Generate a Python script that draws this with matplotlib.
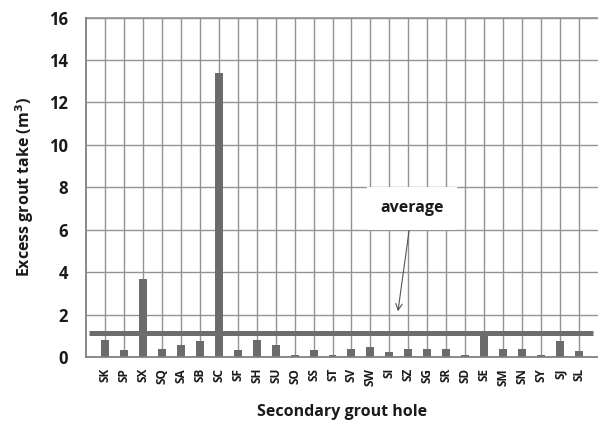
import matplotlib
matplotlib.use('Agg')
import matplotlib.pyplot as plt
import numpy as np

plt.rcParams.update({
    "font.family": ["Open Sans", "DejaVu Sans"],
    "font.weight": "bold",
})

# ------------------------------------------------------------
# data
# ------------------------------------------------------------
holes = ['SK', 'SP', 'SX', 'SQ', 'SA', 'SB', 'SC', 'SF', 'SH', 'SU', 'SO',
         'SS', 'ST', 'SV', 'SW', 'SI', 'SZ', 'SG', 'SR', 'SD', 'SE', 'SM',
         'SN', 'SY', 'SJ', 'SL']
excess_take = [0.79, 0.33, 3.67, 0.38, 0.58, 0.74, 13.4, 0.33, 0.79, 0.58,
               0.11, 0.33, 0.11, 0.38, 0.49, 0.24, 0.38, 0.38, 0.38, 0.11,
               1.05, 0.38, 0.38, 0.08, 0.74, 0.30]
average_take = 1.13
y_ticks = [0, 2, 4, 6, 8, 10, 12, 14, 16]

bar_col = '#6b6b6b'
grid_col = '#939393'

fig = plt.figure(figsize=(5.98, 4.30), dpi=100)
ax = fig.add_axes([0.1438, 0.1698, 0.8562, 0.7895])

x = np.arange(len(holes))

# gridlines
for yt in y_ticks[1:]:
    ax.axhline(yt, color=grid_col, lw=1.0, zorder=0)
for xi in x:
    ax.axvline(xi, color=grid_col, lw=1.0, zorder=0)

ax.bar(x, excess_take, width=0.42, color=bar_col, zorder=2)

# average line
ax.plot([-0.83, 25.72], [average_take, average_take],
        color='#6d6d6d', lw=3.6, solid_capstyle='butt', zorder=3)

ax.annotate('average', xy=(15.45, 2.15), xytext=(16.2, 7.0),
            fontsize=11.5, fontweight='bold', ha='center', va='center',
            color='#1a1a1a',
            bbox=dict(boxstyle='square,pad=0.85', facecolor='white',
                      edgecolor='none'),
            arrowprops=dict(arrowstyle='->', color='#555555', lw=0.8,
                            shrinkA=0, shrinkB=0),
            zorder=5)

ax.set_xlim(-1, 26)
ax.set_ylim(0, 16)
ax.set_yticks(y_ticks)
ax.set_xticks(x)
ax.set_xticklabels(holes, rotation=90, fontsize=8.5, fontweight='bold')
ax.tick_params(axis='both', length=0, colors='#1a1a1a')
ax.tick_params(axis='y', labelsize=12, pad=13)
ax.tick_params(axis='x', pad=8)

for s in ['top', 'right']:
    ax.spines[s].set_visible(False)
ax.axhline(16, color=grid_col, lw=1.2, zorder=1, clip_on=False)
for s in ['left', 'bottom']:
    ax.spines[s].set_color('#808080')
    ax.spines[s].set_linewidth(1.3)

ax.set_ylabel('Excess grout take (m$^\\mathbf{3}$)', fontsize=11.5,
              fontweight='bold', labelpad=9, color='#1a1a1a')
ax.set_xlabel('Secondary grout hole', fontsize=11.5, fontweight='bold',
              labelpad=13, color='#1a1a1a')

fig.savefig('out.png', dpi=100)
